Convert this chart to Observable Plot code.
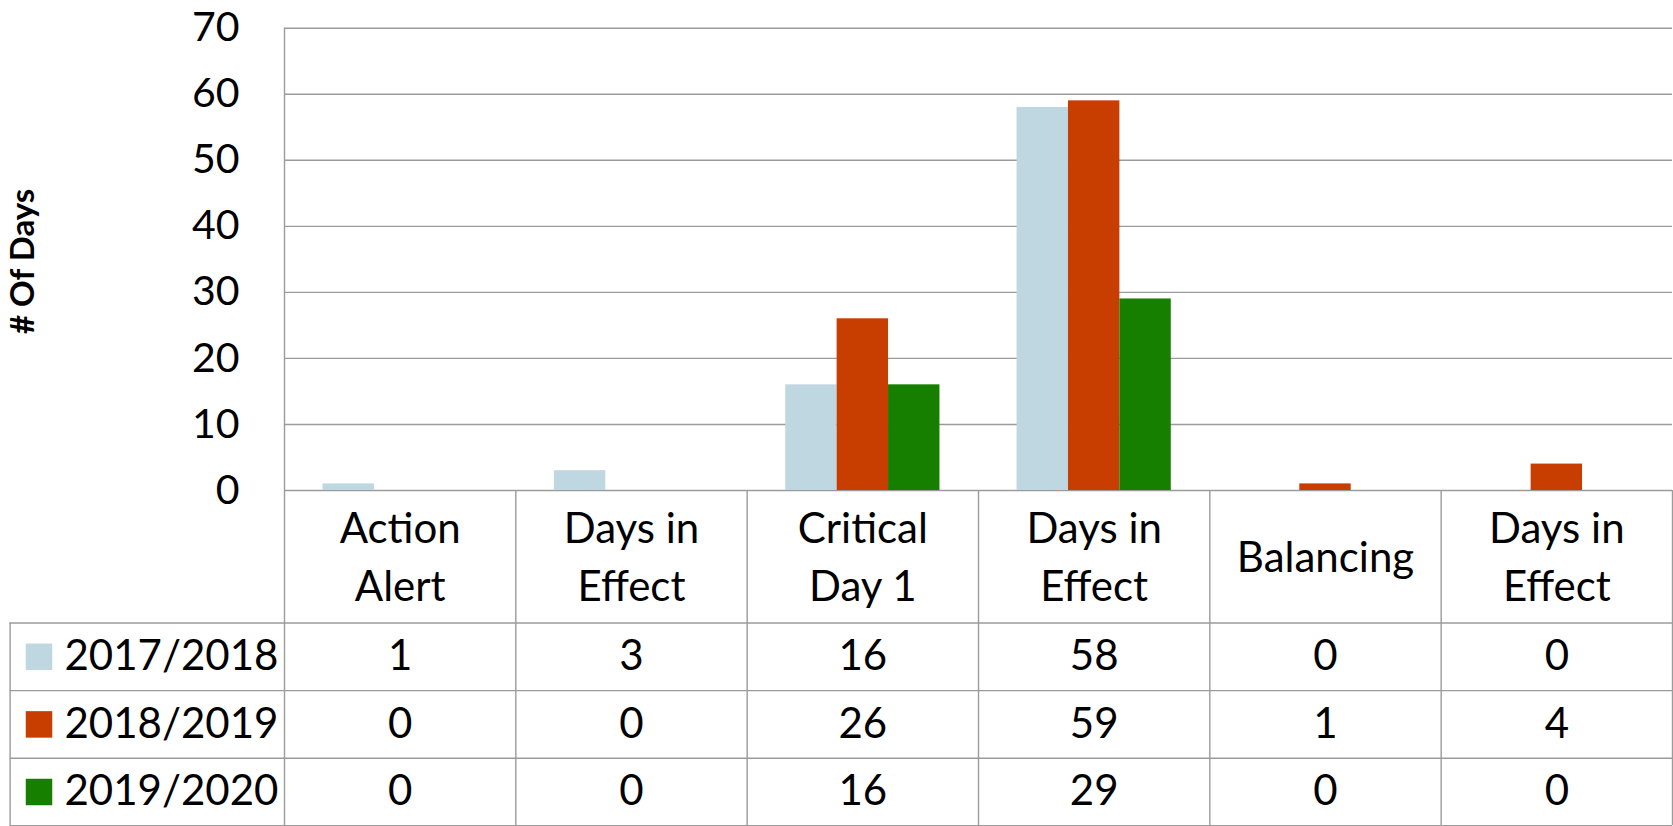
<!DOCTYPE html>
<html>
<head>
<meta charset="utf-8">
<script src="https://cdn.jsdelivr.net/npm/d3@7"></script>
<script src="https://cdn.jsdelivr.net/npm/@observablehq/plot@0.6"></script>
<style>
  html, body { margin: 0; padding: 0; background: #fff; }
  #chart svg { display: block; }
</style>
</head>
<body>
<div id="chart"></div>
<script>
// ---- data ----
const categories = ["Action Alert", "Days in Effect", "Critical Day 1", "Days in Effect", "Balancing", "Days in Effect"];
const categoryLabels = ["Action\nAlert", "Days in\nEffect", "Critical\nDay 1", "Days in\nEffect", "Balancing", "Days in\nEffect"];
const seriesNames = ["2017/2018", "2018/2019", "2019/2020"];
const values2017_2018 = [1, 3, 16, 58, 0, 0];
const values2018_2019 = [0, 0, 26, 59, 1, 4];
const values2019_2020 = [0, 0, 16, 29, 0, 0];
const seriesColors = ["#BFD7E0", "#C83D00", "#167F00"];
const yTicks = [0, 10, 20, 30, 40, 50, 60, 70];
const yTitle = "# Of Days";

// ---- derived tables ----
const seriesValues = [values2017_2018, values2018_2019, values2019_2020];
const rows = seriesNames.flatMap((s, si) =>
  seriesValues[si].map((v, ci) => ({series: s, si, ci, value: v})));
const cats = categories.map((c, ci) => ({ci, name: c, label: categoryLabels[ci]}));

// ---- layout ----
const W = 1673, H = 826;
const mLeft = 284, mRight = 1, mTop = 27.7, baseY = 490;
const mBottom = H - baseY;
const chartH = baseY - mTop;
const headerH = 132.5, rowH = 67.6;
const tableH = headerH + seriesNames.length * rowH;
const tableLeft = 9.6;
const gapWidth = 1.5;                       // Excel gap width 150%
const slots = seriesNames.length + gapWidth;
const lineColor = "#9b9b9b";
const lw = 1.4;
const fs = 42;

const marks = [];

// gridlines (including the zero axis line)
marks.push(Plot.ruleY(yTicks, {stroke: lineColor, strokeWidth: lw}));

// bars
marks.push(Plot.rect(rows, {
  x1: d => d.ci + (gapWidth / 2 + d.si) / slots,
  x2: d => d.ci + (gapWidth / 2 + d.si + 1) / slots,
  y1: 0,
  y2: "value",
  fill: "series"
}));

// y axis
marks.push(Plot.axisY(yTicks, {tickSize: 0, tickPadding: 45, fontSize: 41, label: null}));

// y title
marks.push(Plot.text([yTitle], {
  frameAnchor: "left", dx: -(mLeft - 23), dy: 2, rotate: -90,
  textAnchor: "middle", lineAnchor: "middle",
  fontWeight: "bold", fontSize: 33
}));

// left vertical line (plot edge + table)
marks.push(Plot.ruleX([0], {stroke: lineColor, strokeWidth: lw, insetBottom: -tableH}));
// column dividers in the table
marks.push(Plot.ruleX(d3.range(1, categories.length + 1), {
  stroke: lineColor, strokeWidth: lw, insetTop: chartH, insetBottom: -tableH
}));
// table left edge
marks.push(Plot.ruleX([0], {
  stroke: lineColor, strokeWidth: lw, dx: -(mLeft - tableLeft),
  insetTop: chartH + headerH, insetBottom: -tableH
}));
// table horizontal lines
for (let k = 0; k <= seriesNames.length; k++) {
  marks.push(Plot.ruleY([0], {
    stroke: lineColor, strokeWidth: lw, dy: headerH + k * rowH,
    insetLeft: -(mLeft - tableLeft)
  }));
}

// category header labels
marks.push(Plot.text(cats, {
  x: d => d.ci + 0.5, text: "label", frameAnchor: "bottom",
  lineAnchor: "middle", dy: headerH / 2 - 3, lineHeight: 1.38, fontSize: fs
}));

// table rows
seriesNames.forEach((s, si) => {
  const dy = headerH + rowH * (si + 0.5);
  marks.push(Plot.text(rows.filter(r => r.si === si), {
    x: d => d.ci + 0.5, text: d => String(d.value), frameAnchor: "bottom",
    lineAnchor: "middle", dy, fontSize: fs
  }));
  marks.push(Plot.dot([s], {
    frameAnchor: "bottom-left", dx: -(mLeft - 38.5), dy,
    symbol: "square", r: 26.5 / Math.sqrt(Math.PI), fill: d => d, stroke: null
  }));
  marks.push(Plot.text([s], {
    frameAnchor: "bottom-left", dx: -(mLeft - 64), dy,
    textAnchor: "start", lineAnchor: "middle", fontSize: fs
  }));
});

const chart = Plot.plot({
  width: W,
  height: H,
  marginLeft: mLeft,
  marginRight: mRight,
  marginTop: mTop,
  marginBottom: mBottom,
  x: {domain: [0, categories.length], axis: null},
  y: {domain: [0, 70]},
  color: {domain: seriesNames, range: seriesColors},
  style: {fontFamily: "Lato, 'Open Sans', sans-serif", fontSize: "42px", color: "#000", background: "#fff"},
  marks
});
document.getElementById("chart").appendChild(chart);
</script>
</body>
</html>
